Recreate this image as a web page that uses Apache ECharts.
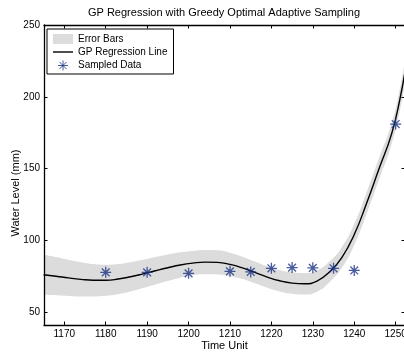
<!DOCTYPE html>
<html>
<head>
<meta charset="utf-8">
<script src="https://cdn.jsdelivr.net/npm/echarts@6/dist/echarts.min.js"></script>
<style>
  html, body { margin: 0; padding: 0; background: #fff; }
  #chart { width: 404px; height: 354px; }
</style>
</head>
<body>
<div id="chart"></div>
<script>
// GP posterior mean and half-width of the confidence band, on a time grid
const timeGrid = [1165, 1168, 1171, 1174, 1177, 1180, 1183, 1186, 1189, 1192, 1195, 1198,
  1201, 1204, 1207, 1210, 1213, 1216, 1219, 1222, 1225, 1228, 1231, 1234, 1237, 1240,
  1243, 1246, 1249, 1251, 1252.5];
const gpMean = [76.0, 75.0, 73.8, 72.8, 72.2, 72.2, 73.0, 74.6, 76.6, 78.8, 80.9, 82.8,
  84.1, 84.8, 84.6, 83.2, 80.8, 77.6, 74.4, 71.8, 70.2, 69.7, 71.6, 78.0, 88.0, 104.0,
  126.0, 150.0, 174.0, 198.0, 222.0];
const gpHalfWidth = [14.0, 13.3, 12.6, 12.0, 11.3, 10.8, 10.5, 10.2, 9.8, 9.5, 9.2, 8.8,
  8.5, 8.5, 8.5, 8.2, 7.8, 7.6, 7.5, 7.5, 7.5, 7.5, 7.4, 7.2, 7.2, 7.3,
  7.5, 7.5, 7.2, 7.5, 8.5];

// Observations chosen by the sampler
const sampleTimes = [1180, 1190, 1200, 1210, 1215, 1220, 1225, 1230, 1235, 1240, 1250];
const sampleLevels = [77.7, 77.7, 77.0, 78.4, 78.0, 80.5, 81.0, 80.8, 80.5, 79.0, 181.0];

// Tick positions
const xTicks = [1170, 1180, 1190, 1200, 1210, 1220, 1230, 1240, 1250];
const yTicks = [50, 100, 150, 200, 250];

const FONT = 'Liberation Sans, Arial, Helvetica, sans-serif';
const BAND = '#dcdcdc';
const MARK = '#1b3583';
const ASTERISK = 'path://M0,-10L0,10M-10,0L10,0M-7.07,-7.07L7.07,7.07M-7.07,7.07L7.07,-7.07';
const LINE_ICON = 'path://M0,0L20,0L20,1.4L0,1.4Z';

const upper = timeGrid.map((t, i) => [t, gpMean[i] + gpHalfWidth[i]]);
const lower = timeGrid.map((t, i) => [t, gpMean[i] - gpHalfWidth[i]]);
const mean = timeGrid.map((t, i) => [t, gpMean[i]]);
const samples = sampleTimes.map((t, i) => [t, sampleLevels[i]]);

const X_MIN = 1165.1, X_MAX = 1252.25, Y_MIN = 41, Y_MAX = 250;

const plain = v => String(v);

const boxAxis = {
  z: 10,
  nameMoveOverlap: false,
  axisLine: { show: true, onZero: false, lineStyle: { color: '#000', width: 1.3 } },
  splitLine: { show: false }
};

const chart = echarts.init(document.getElementById('chart'), null, { renderer: 'canvas' });
chart.setOption({
  animation: false,
  backgroundColor: '#fff',
  textStyle: { fontFamily: FONT },
  title: {
    text: 'GP Regression with Greedy Optimal Adaptive Sampling',
    left: 224, top: 7, padding: 0, textAlign: 'center',
    textStyle: { fontSize: 11, fontWeight: 'normal', color: '#000', fontFamily: FONT }
  },
  legend: {
    orient: 'vertical', left: 47, top: 29, z: 20,
    padding: [5, 6, 3, 6], itemGap: 3, itemWidth: 20, itemHeight: 10,
    borderColor: '#000', borderWidth: 1, backgroundColor: '#fff',
    textStyle: { fontSize: 10, color: '#000', fontFamily: FONT },
    data: [
      { name: 'Error Bars', icon: 'rect', itemStyle: { color: BAND, borderWidth: 0 } },
      { name: 'GP Regression Line', icon: LINE_ICON, itemStyle: { color: '#000', borderWidth: 0 } },
      { name: 'Sampled Data', icon: ASTERISK, itemStyle: { borderWidth: 1 } }
    ]
  },
  grid: { left: 44, right: -1, top: 25, bottom: 29, outerBoundsMode: 'none', containLabel: false },
  xAxis: [
    Object.assign({}, boxAxis, {
      type: 'value', min: X_MIN, max: X_MAX, position: 'bottom',
      name: 'Time Unit', nameLocation: 'middle', nameGap: 15,
      nameTextStyle: { fontSize: 11, color: '#000', fontFamily: FONT, verticalAlign: 'top' },
      axisTick: { show: true, inside: true, length: 3.5, customValues: xTicks, lineStyle: { color: '#000' } },
      axisLabel: { show: true, customValues: xTicks, formatter: plain, fontSize: 10, color: '#000', margin: 4, fontFamily: FONT }
    }),
    Object.assign({}, boxAxis, {
      type: 'value', min: X_MIN, max: X_MAX, position: 'top',
      axisTick: { show: true, inside: true, length: 3.5, customValues: xTicks, lineStyle: { color: '#000' } },
      axisLabel: { show: false }
    })
  ],
  yAxis: [
    Object.assign({}, boxAxis, {
      type: 'value', min: Y_MIN, max: Y_MAX, position: 'left',
      name: 'Water Level (mm)', nameLocation: 'middle', nameGap: 23,
      nameTextStyle: { fontSize: 11, color: '#000', fontFamily: FONT, padding: [0, 36, 0, 0] },
      axisTick: { show: true, inside: true, length: 3.5, customValues: yTicks, lineStyle: { color: '#000' } },
      axisLabel: { show: true, customValues: yTicks, formatter: plain, fontSize: 10, color: '#000', margin: 4, fontFamily: FONT }
    }),
    Object.assign({}, boxAxis, {
      type: 'value', min: Y_MIN, max: Y_MAX, position: 'right',
      axisTick: { show: true, inside: true, length: 3.5, customValues: yTicks, lineStyle: { color: '#000' } },
      axisLabel: { show: false }
    })
  ],
  series: [
    {
      // upper edge of the band, filled down to the bottom of the plot
      name: 'Error Bars', type: 'line', data: upper, z: 2,
      smooth: true, symbol: 'none', silent: true,
      lineStyle: { width: 0, opacity: 0 }, itemStyle: { color: BAND },
      areaStyle: { color: BAND, opacity: 1, origin: 'start' }
    },
    {
      // lower edge of the band, clears the fill beneath it
      name: 'band-lower', type: 'line', data: lower, z: 3,
      smooth: true, symbol: 'none', silent: true,
      lineStyle: { width: 0, opacity: 0 }, itemStyle: { color: '#fff' },
      areaStyle: { color: '#fff', opacity: 1, origin: 'start' }
    },
    {
      name: 'GP Regression Line', type: 'line', data: mean, z: 4,
      smooth: true, symbol: 'none',
      lineStyle: { color: '#000', width: 1.4 }, itemStyle: { color: '#000' }
    },
    {
      name: 'Sampled Data', type: 'scatter', data: samples, z: 6,
      symbol: ASTERISK, symbolSize: 11,
      itemStyle: { color: MARK, borderColor: MARK, borderWidth: 1.3 }
    }
  ]
});
</script>
</body>
</html>
